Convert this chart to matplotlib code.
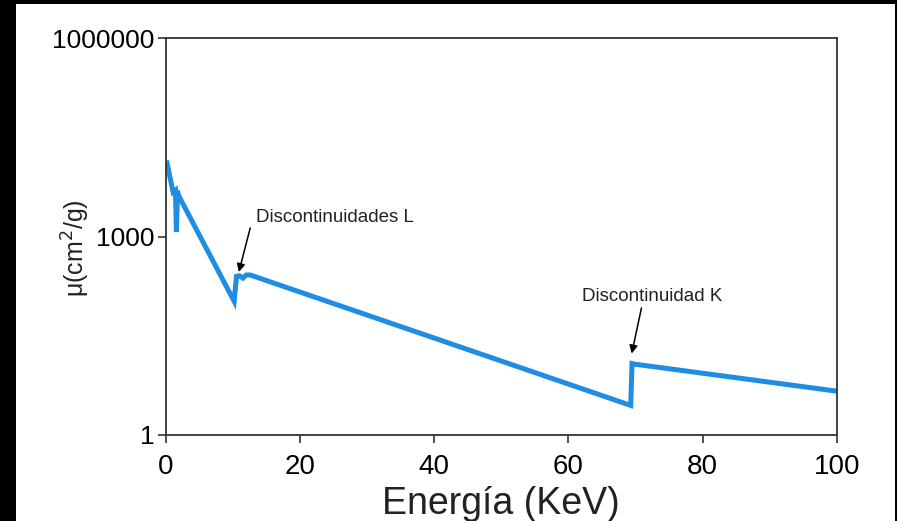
import matplotlib as mpl
mpl.use('agg')
import matplotlib.pyplot as plt
from matplotlib.patches import Rectangle

plt.rcParams['font.family'] = ['Liberation Sans', 'DejaVu Sans']

# energia (keV) y coeficiente de atenuacion (cm2/g)
energia = [0.2, 1.1, 1.45, 1.6, 1.75, 1.95, 10.2, 10.55, 11.0, 11.5, 12.0, 12.6,
           69.3, 69.5, 69.8, 100]
mu = [12900, 4700, 5000, 1170, 4900, 4100, 105, 250, 255, 235, 262, 262,
      2.8, 12.0, 11.8, 4.6]

xticks = [0, 20, 40, 60, 80, 100]
yticks = [1, 1000, 1000000]
yticklabels = ['1', '1000', '1000000']

fig = plt.figure(figsize=(8.97, 5.21), dpi=100, facecolor='black')
# recuadro blanco sobre el fondo negro
fig.patches.append(Rectangle((16 / 897, 0), (895 - 16) / 897, 517 / 521,
                             transform=fig.transFigure, facecolor='white',
                             edgecolor='none', zorder=-10))
ax = fig.add_axes([165.7 / 897, 86 / 521, 671 / 897, 397 / 521])
ax.set_facecolor('white')

ax.plot(energia, mu, color='#1f8de3', linewidth=3.6, solid_joinstyle='miter')
ax.set_yscale('log')
ax.set_xlim(0, 100)
ax.set_ylim(1, 1000000)
ax.set_xticks(xticks)
ax.set_xticklabels([str(t) for t in xticks], fontsize=20)
ax.set_yticks(yticks)
ax.set_yticklabels(yticklabels, fontsize=19, va='center_baseline')
ax.minorticks_off()
ax.tick_params(direction='out', length=6, width=1.2, color='#333333')
ax.tick_params(axis='x', pad=8)
ax.tick_params(axis='y', pad=2)
for s in ax.spines.values():
    s.set_color('#333333')
    s.set_linewidth(1.3)

ax.set_xlabel('Energía (KeV)', fontsize=27, labelpad=4, color='#222222')
ax.set_ylabel(r'μ(cm$^2$/g)', fontsize=18, color='#222222')
ax.yaxis.set_label_coords(-0.11, 0.47)

ax.text(13.4, 1950, 'Discontinuidades L', fontsize=13.5, ha='left',
        va='center', color='#222222')
ax.annotate('', xy=(10.9, 290), xytext=(12.6, 1350),
            arrowprops=dict(arrowstyle='-|>', color='black', lw=1.1,
                            mutation_scale=12, shrinkA=0, shrinkB=0))
ax.text(72.5, 126, 'Discontinuidad K', fontsize=13.5, ha='center',
        va='center', color='#222222')
ax.annotate('', xy=(69.45, 17), xytext=(70.9, 83),
            arrowprops=dict(arrowstyle='-|>', color='black', lw=1.1,
                            mutation_scale=12, shrinkA=0, shrinkB=0))

plt.savefig('out.png', dpi=100, facecolor='black')
